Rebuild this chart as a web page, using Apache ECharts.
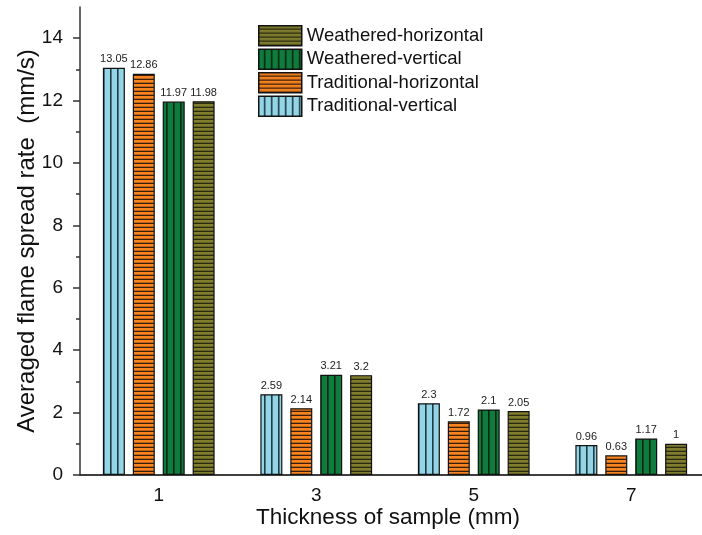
<!DOCTYPE html>
<html><head><meta charset="utf-8">
<script src="https://cdn.jsdelivr.net/npm/echarts@6/dist/echarts.min.js"></script>
<style>html,body{margin:0;padding:0;background:#fff}#c{width:702px;height:535px}</style>
</head><body><div id="c"></div>
<script>
const categories = ['1', '3', '5', '7'];
const traditionalVertical = [13.05, 2.59, 2.3, 0.96];
const traditionalHorizontal = [12.86, 2.14, 1.72, 0.63];
const weatheredVertical = [11.97, 3.21, 2.1, 1.17];
const weatheredHorizontal = [11.98, 3.2, 2.05, 1];
const seriesNames = ['Traditional-vertical', 'Traditional-horizontal', 'Weathered-vertical', 'Weathered-horizontal'];
const majorTicks = [0, 2, 4, 6, 8, 10, 12, 14];
const minorTicks = [1, 3, 5, 7, 9, 11, 13];

function pattern(base, line, vertical) {
  const c = document.createElement('canvas');
  if (vertical) {
    c.width = 7; c.height = 4;
    const g = c.getContext('2d');
    g.fillStyle = base; g.fillRect(0, 0, 7, 4);
    g.fillStyle = line; g.fillRect(5, 0, 1.6, 4);
  } else {
    c.width = 4; c.height = 4;
    const g = c.getContext('2d');
    g.fillStyle = base; g.fillRect(0, 0, 4, 4);
    g.fillStyle = line; g.fillRect(0, 2.7, 4, 1.3);
  }
  return { image: c, repeat: 'repeat' };
}
const fills = [
  pattern('#93d5e6', '#1f3d45', true),
  pattern('#f7841f', '#3a1e0c', false),
  pattern('#0f7b3c', '#0a2612', true),
  pattern('#807e2e', '#2a2a0e', false)
];
const values = [traditionalVertical, traditionalHorizontal, weatheredVertical, weatheredHorizontal];
const FONT = 'Liberation Sans, Arial, sans-serif';

const chart = echarts.init(document.getElementById('c'), null, { renderer: 'canvas' });
chart.setOption({
  animation: false,
  textStyle: { fontFamily: FONT },
  legend: {
    orient: 'vertical', left: 258, top: 25, itemGap: 2, padding: 0,
    itemWidth: 43, itemHeight: 20, icon: 'rect',
    data: seriesNames.slice().reverse(),
    textStyle: { fontSize: 18.5, lineHeight: 20, color: '#111', fontFamily: FONT },
    itemStyle: { borderColor: '#111', borderWidth: 1.5 }
  },
  grid: { left: 80, top: 7, width: 630, height: 468, outerBoundsMode: 'none', containLabel: false },
  xAxis: [{
    type: 'category', data: categories,
    axisLine: { lineStyle: { color: '#333', width: 1.5 } },
    axisTick: { show: false },
    axisLabel: { fontSize: 19, color: '#111', margin: 11, fontFamily: FONT },
    name: 'Thickness of sample (mm)', nameLocation: 'middle', nameGap: 31, nameMoveOverlap: false,
    nameTextStyle: { fontSize: 22.5, color: '#111', fontFamily: FONT, padding: [0, 14, 0, 0] }
  }, {
    type: 'category', data: categories, position: 'top',
    axisLine: { lineStyle: { color: '#333', width: 1.5 } },
    axisTick: { show: false }, axisLabel: { show: false }
  }],
  yAxis: [{
    type: 'value', min: 0, max: 15,
    axisLine: { show: true, lineStyle: { color: '#333', width: 1.5 } },
    axisTick: { show: true, length: 7, customValues: majorTicks, lineStyle: { color: '#333', width: 1.5 } },
    axisLabel: { fontSize: 19, color: '#111', margin: 17, customValues: majorTicks, fontFamily: FONT },
    splitLine: { show: false },
    name: 'Averaged flame spread rate  (mm/s)', nameLocation: 'middle', nameGap: 41, nameMoveOverlap: false,
    nameTextStyle: { fontSize: 24, color: '#111', fontFamily: FONT }
  }, {
    type: 'value', min: 0, max: 15, position: 'left',
    axisLine: { show: false },
    axisTick: { show: true, length: 4, customValues: minorTicks, lineStyle: { color: '#333', width: 1.5 } },
    axisLabel: { show: false }, splitLine: { show: false }
  }],
  series: seriesNames.map((n, i) => ({
    name: n, type: 'bar', data: values[i],
    barWidth: 22, barGap: '36%',
    itemStyle: { color: fills[i], borderColor: '#111', borderWidth: 1.2 },
    label: { show: true, position: 'top', distance: 3, fontSize: 11, color: '#222', fontFamily: FONT }
  }))
});
</script></body></html>
